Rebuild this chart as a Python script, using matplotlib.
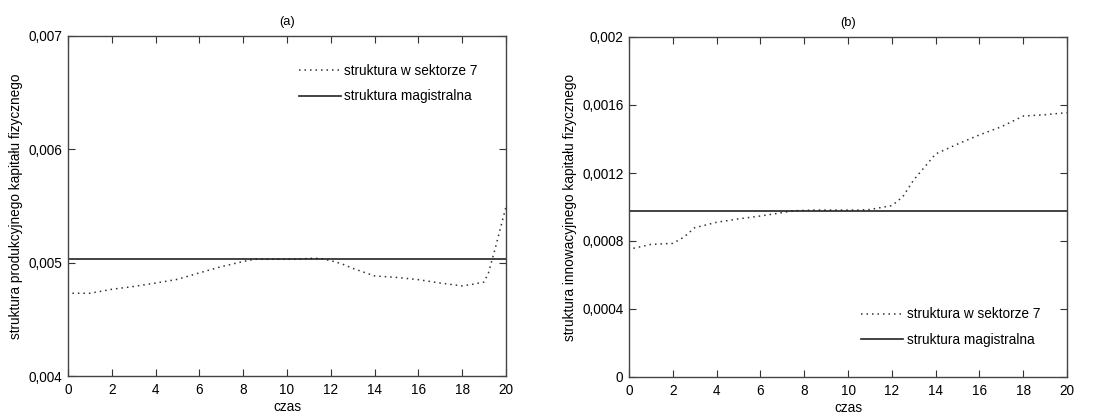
import matplotlib
matplotlib.use("Agg")
import matplotlib.pyplot as plt

plt.rcParams['font.family'] = ['Liberation Sans', 'DejaVu Sans']

# czas (os x)
czas_a = [0.2, 1, 2, 3, 4, 5, 6, 7, 8, 8.5, 9.5, 10.5, 11, 11.5, 12, 12.5, 13, 14, 15, 16, 17, 18, 18.5, 19, 19.2, 19.5, 20]
sektor7_a = [0.00473, 0.00473, 0.004765, 0.00479, 0.00482, 0.004853, 0.00491, 0.004965, 0.00501, 0.00503,
             0.00503, 0.00503, 0.005038, 0.005038, 0.005018, 0.00499, 0.00495, 0.004883, 0.00487, 0.00485,
             0.00482, 0.004795, 0.00481, 0.00483, 0.00491, 0.00512, 0.005494]
magistrala_a = 0.00503

czas_b = [0.2, 1, 2, 2.5, 3, 4, 5, 6, 7, 7.5, 8.5, 9.5, 10.5, 11, 12, 12.5, 13, 14, 15, 16, 17, 18, 19, 20]
sektor7_b = [0.000757, 0.00078, 0.000786, 0.000822, 0.000878, 0.00091, 0.00093, 0.000947, 0.000967, 0.000978,
             0.000982, 0.000982, 0.000982, 0.000985, 0.001008, 0.00106, 0.001159, 0.001312, 0.00137, 0.001424,
             0.001472, 0.001535, 0.001543, 0.001555]
magistrala_b = 0.000978

yticks_a = [0.004, 0.005, 0.006, 0.007]
yticklabels_a = ['0,004', '0,005', '0,006', '0,007']
yticks_b = [0, 0.0004, 0.0008, 0.0012, 0.0016, 0.002]
yticklabels_b = ['0', '0,0004', '0,0008', '0,0012', '0,0016', '0,002']
xticks = list(range(0, 21, 2))

fig = plt.figure(figsize=(11.1, 4.16), dpi=100)
ax_a = fig.add_axes([68 / 1110, 40 / 416, 438 / 1110, 340 / 416])
ax_b = fig.add_axes([629 / 1110, 39 / 416, 438 / 1110, 340 / 416])

fs = 9.8


def rysuj(ax, czas, sektor7, magistrala, yticks, yticklabels, ylabel, tytul, leg_pos):
    ax.plot(czas, sektor7, color='#333333', lw=1.1, linestyle=(0, (1, 2.6)), label='struktura w sektorze 7')
    ax.axhline(magistrala, color='#222222', lw=1.2, label='struktura magistralna')
    ax.set_xlim(0, 20)
    ax.set_ylim(yticks[0], yticks[-1])
    ax.set_xticks(xticks)
    ax.set_xticklabels([str(t) for t in xticks], fontsize=fs)
    ax.set_yticks(yticks)
    ax.set_yticklabels(yticklabels, fontsize=fs)
    ax.tick_params(direction='in', length=5, top=True, right=True, color='#333333')
    ax.tick_params(axis='x', pad=5)
    ax.tick_params(axis='y', pad=4)
    for s in ax.spines.values():
        s.set_color('#444444')
        s.set_linewidth(1.0)
    ax.set_xlabel('czas', fontsize=fs, labelpad=2)
    ax.set_ylabel(ylabel, fontsize=fs, labelpad=4)
    ax.set_title(tytul, fontsize=fs - 0.5, pad=8)
    ax.legend(loc='upper left', bbox_to_anchor=leg_pos, frameon=False, fontsize=fs,
              handlelength=3.1, handletextpad=0.25, labelspacing=0.85, borderpad=0, borderaxespad=0)


rysuj(ax_a, czas_a, sektor7_a, magistrala_a, yticks_a, yticklabels_a,
      'struktura produkcyjnego kapitału fizycznego', '(a)', (0.527, 0.918))
rysuj(ax_b, czas_b, sektor7_b, magistrala_b, yticks_b, yticklabels_b,
      'struktura innowacyjnego kapitału fizycznego', '(b)', (0.530, 0.205))

fig.savefig('out.png', dpi=100)
